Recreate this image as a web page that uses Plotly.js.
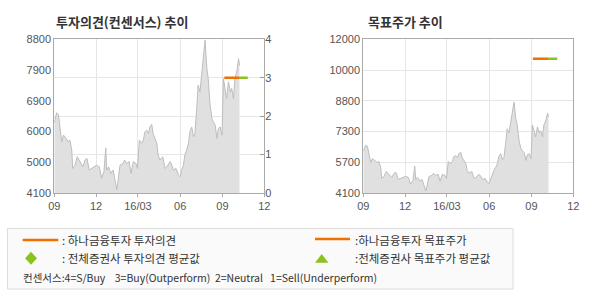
<!DOCTYPE html>
<html><head><meta charset="utf-8">
<script src="https://cdn.plot.ly/plotly-3.0.1.min.js"></script>
<style>html,body{margin:0;padding:0;background:#fff}#c{width:590px;height:300px}</style>
</head><body><div id="c"></div>
<script>
const dates = ['2015-09-01','2015-09-06','2015-09-10','2015-09-13','2015-09-17','2015-09-21','2015-09-27','2015-10-01','2015-10-05','2015-10-09','2015-10-11','2015-10-16','2015-10-21','2015-10-27','2015-11-02','2015-11-07','2015-11-11','2015-11-16','2015-11-21','2015-11-27','2015-12-02','2015-12-08','2015-12-13','2015-12-18','2015-12-22','2015-12-24','2015-12-28','2016-01-02','2016-01-07','2016-01-11','2016-01-15','2016-01-18','2016-01-22','2016-01-28','2016-02-01','2016-02-05','2016-02-11','2016-02-15','2016-02-20','2016-02-26','2016-02-29','2016-03-04','2016-03-09','2016-03-13','2016-03-16','2016-03-20','2016-03-24','2016-03-27','2016-03-31','2016-04-03','2016-04-07','2016-04-11','2016-04-14','2016-04-18','2016-04-24','2016-04-29','2016-05-03','2016-05-10','2016-05-14','2016-05-17','2016-05-23','2016-05-28','2016-06-01','2016-06-04','2016-06-08','2016-06-11','2016-06-15','2016-06-19','2016-06-22','2016-06-26','2016-06-30','2016-07-03','2016-07-07','2016-07-10','2016-07-14','2016-07-18','2016-07-21','2016-07-25','2016-07-29','2016-08-01','2016-08-05','2016-08-09','2016-08-12','2016-08-16','2016-08-20','2016-08-23','2016-08-27','2016-08-31','2016-09-03','2016-09-07','2016-09-10','2016-09-14','2016-09-18','2016-09-21','2016-09-25','2016-09-28','2016-10-02','2016-10-06','2016-10-08'];
const prices = [6250,6550,6500,6175,5665,5870,5770,5665,5720,5410,4850,4950,5210,5060,4900,5110,5160,4800,4850,4900,4950,4900,4550,4750,5480,4800,4900,4700,4800,4500,4210,4500,4950,5000,5110,5000,5060,4700,5060,5000,4850,5720,5620,5720,5970,6020,5920,6120,6200,5920,5770,5620,5260,5110,5210,4850,4900,5060,4950,4800,4850,4650,4600,4800,4950,5260,5410,5620,5970,6120,5820,5920,6700,7400,7190,7700,8110,8770,7905,7600,6790,6380,6280,6175,5770,6070,6120,5870,7600,7300,6990,7500,7190,7300,6990,7600,7800,8210,8000];

const houseOpinionDates = ['2016-09-05','2016-10-07'];
const houseOpinion = [3,3];
const consOpinionDates = ['2016-10-07','2016-10-26'];
const consOpinion = [3,3];
const houseTargetDates = ['2016-09-04','2016-10-07'];
const houseTarget = [11000,11000];
const consTargetDates = ['2016-10-07','2016-10-27'];
const consTarget = [11000,11000];

const xTickVals = ['2015-09-01','2015-12-01','2016-03-01','2016-06-01','2016-09-01','2016-12-01'];
const xTickText = ['09','12','16/03','06','09','12'];
const leftPriceTickVals = [4100,5040,5980,6920,7860,8800];
const leftPriceTickText = ['4100','5000','6000','6900','7900','8800'];
const opinionTicks = [0,1,2,3,4];
const rightPriceTickVals = [4100,5680,7260,8840,10420,12000];
const rightPriceTickText = ['4100','5700','7300','8800','10000','12000'];

const W = 590, H = 300;
const px = v => v / W, py = v => 1 - v / H;
const ORANGE = '#f07000', GREEN = '#8cc21f';
const tickFont = {family: 'Liberation Sans, Arial, sans-serif', size: 11, color: '#555'};
const KR = 'Noto Sans CJK KR, sans-serif';

const area = (xa, ya) => ({x: dates, y: prices, type: 'scatter', mode: 'lines', fill: 'tozeroy',
  fillcolor: '#e0e0e0', line: {color: '#bdbdbd', width: 1}, xaxis: xa, yaxis: ya, hoverinfo: 'skip'});
const seg = (x, y, c, xa, ya) => ({x, y, type: 'scatter', mode: 'lines', line: {color: c, width: 2.5}, xaxis: xa, yaxis: ya, hoverinfo: 'skip'});

const data = [
  area('x', 'y'),
  seg(consOpinionDates, consOpinion, GREEN, 'x', 'y2'),
  seg(houseOpinionDates, houseOpinion, ORANGE, 'x', 'y2'),
  area('x2', 'y3'),
  seg(consTargetDates, consTarget, GREEN, 'x2', 'y3'),
  seg(houseTargetDates, houseTarget, ORANGE, 'x2', 'y3')
];

const yDom = [py(193), py(39.3)];
const xAx = dom => ({domain: dom, type: 'date', range: ['2015-09-01', '2016-12-01'], tickmode: 'array',
  tickvals: xTickVals, ticktext: xTickText, showgrid: true, gridcolor: '#e6e6e6', gridwidth: 1,
  showline: true, linecolor: '#aaa', linewidth: 1, mirror: true, ticks: 'outside', ticklen: 3, tickcolor: '#aaa',
  tickfont: tickFont, zeroline: false, fixedrange: true});

const legFont = {family: KR, size: 11.5, color: '#333'};
const layout = {
  width: W, height: H, margin: {l: 0, r: 0, t: 0, b: 0}, paper_bgcolor: '#fff', plot_bgcolor: '#fff',
  showlegend: false,
  xaxis: xAx([px(54.3), px(264.3)]),
  yaxis: {domain: yDom, range: [4100, 8800], tickmode: 'array', tickvals: leftPriceTickVals, ticktext: leftPriceTickText,
    showgrid: false, showline: true, linecolor: '#aaa', mirror: true, ticks: '', tickfont: tickFont, zeroline: false, anchor: 'x'},
  yaxis2: {domain: yDom, overlaying: 'y', side: 'right', anchor: 'x', range: [0, 4], tickmode: 'array', tickvals: opinionTicks,
    showgrid: true, gridcolor: '#e6e6e6', showline: false, ticks: 'inside', ticklen: 4, tickcolor: '#999',
    tickfont: tickFont, zeroline: false},
  xaxis2: Object.assign(xAx([px(363.3), px(573.3)]), {anchor: 'y3'}),
  yaxis3: {domain: yDom, anchor: 'x2', range: [4100, 12000], tickmode: 'array', tickvals: rightPriceTickVals, ticktext: rightPriceTickText,
    showgrid: true, gridcolor: '#e6e6e6', showline: true, linecolor: '#aaa', mirror: true, ticks: '', tickfont: tickFont, zeroline: false},
  shapes: [
    {type: 'rect', xref: 'paper', yref: 'paper', x0: px(7.5), x1: px(513), y0: py(289), y1: py(228.5),
      fillcolor: '#fafafa', line: {color: '#dcdcdc', width: 1}, layer: 'below'},
    {type: 'line', xref: 'paper', yref: 'paper', x0: px(22.7), x1: px(58.3), y0: py(240), y1: py(240), line: {color: ORANGE, width: 2.5}},
    {type: 'line', xref: 'paper', yref: 'paper', x0: px(315), x1: px(350), y0: py(239), y1: py(239), line: {color: ORANGE, width: 2.5}},
    {type: 'path', xref: 'paper', yref: 'paper', fillcolor: GREEN, line: {width: 0},
      path: `M ${px(31)} ${py(251.8)} L ${px(37)} ${py(258.3)} L ${px(31)} ${py(264.8)} L ${px(25)} ${py(258.3)} Z`},
    {type: 'path', xref: 'paper', yref: 'paper', fillcolor: GREEN, line: {width: 0},
      path: `M ${px(321.7)} ${py(254)} L ${px(328.5)} ${py(262.8)} L ${px(315)} ${py(262.8)} Z`}
  ],
  annotations: [
    {text: '<b>투자의견(컨센서스) 추이</b>', xref: 'paper', yref: 'paper', x: px(54), y: py(21), xanchor: 'left', yanchor: 'middle',
      showarrow: false, font: {family: KR, size: 13, color: '#333'}},
    {text: '<b>목표주가 추이</b>', xref: 'paper', yref: 'paper', x: px(366), y: py(21), xanchor: 'left', yanchor: 'middle',
      showarrow: false, font: {family: KR, size: 13, color: '#333'}},
    {text: ': 하나금융투자 투자의견', xref: 'paper', yref: 'paper', x: px(60), y: py(240), xanchor: 'left', yanchor: 'middle',
      showarrow: false, font: legFont},
    {text: ': 전체증권사 투자의견 평균값', xref: 'paper', yref: 'paper', x: px(60), y: py(258), xanchor: 'left', yanchor: 'middle',
      showarrow: false, font: legFont},
    {text: ':하나금융투자 목표주가', xref: 'paper', yref: 'paper', x: px(353), y: py(240), xanchor: 'left', yanchor: 'middle',
      showarrow: false, font: legFont},
    {text: ':전체증권사 목표주가 평균값', xref: 'paper', yref: 'paper', x: px(353), y: py(258), xanchor: 'left', yanchor: 'middle',
      showarrow: false, font: legFont},
    {text: '컨센서스:4=S/Buy\u00a0\u00a0\u00a0\u00a03=Buy(Outperform)\u00a0\u00a02=Neutral\u00a0\u00a0\u00a01=Sell(Underperform)', xref: 'paper', yref: 'paper',
      x: px(21), y: py(277), xanchor: 'left', yanchor: 'middle', showarrow: false, font: {family: KR, size: 10.5, color: '#333'}}
  ]
};

Plotly.newPlot('c', data, layout, {staticPlot: true, displayModeBar: false});
</script></body></html>
